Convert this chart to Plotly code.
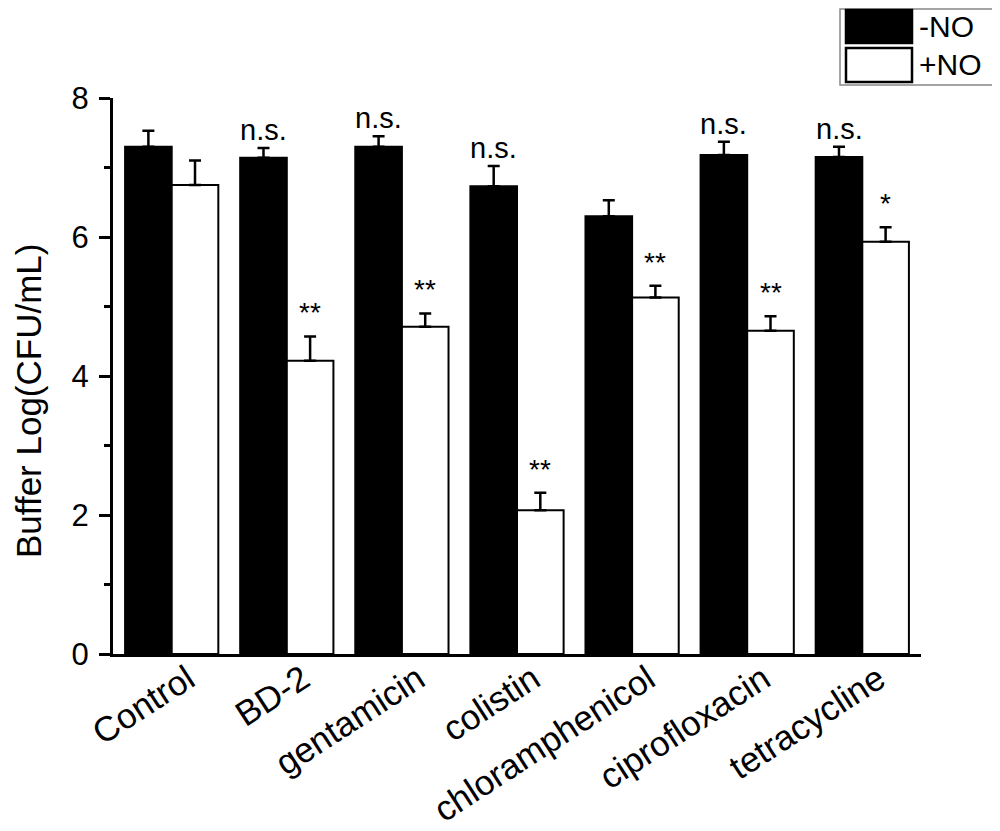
import plotly.graph_objects as go

# data
categories = ["Control", "BD-2", "gentamicin", "colistin",
              "chloramphenicol", "ciprofloxacin", "tetracycline"]
minus_no = [7.30, 7.14, 7.30, 6.73, 6.30, 7.18, 7.15]
minus_no_err = [0.23, 0.14, 0.15, 0.29, 0.23, 0.19, 0.15]
plus_no = [6.75, 4.22, 4.71, 2.07, 5.13, 4.65, 5.93]
plus_no_err = [0.35, 0.35, 0.19, 0.25, 0.17, 0.21, 0.21]
sig_minus = ["", "n.s.", "n.s.", "n.s.", "", "n.s.", "n.s."]
sig_plus = ["", "**", "**", "**", "**", "**", "*"]

FONT = "Arial, Liberation Sans, sans-serif"
# page body has an 8px margin, so the figure is 8px smaller than the window
W, H = 992, 823
L, R, T, B = 105, 79, 90, 177  # margins in px

fig = go.Figure()

fig.add_trace(go.Bar(
    x=categories, y=minus_no, name="-NO",
    marker=dict(color="black", line=dict(color="black", width=2)),
    error_y=dict(type="data", array=minus_no_err, symmetric=False,
                 arrayminus=[0] * len(minus_no), color="black",
                 thickness=2.5, width=6),
))
fig.add_trace(go.Bar(
    x=categories, y=plus_no, name="+NO",
    marker=dict(color="white", line=dict(color="black", width=2)),
    error_y=dict(type="data", array=plus_no_err, symmetric=False,
                 arrayminus=[0] * len(plus_no), color="black",
                 thickness=2.5, width=6),
))

# significance marks above the error bars
half = 23.3
for i, c in enumerate(categories):
    if sig_minus[i]:
        fig.add_annotation(x=c, y=minus_no[i] + minus_no_err[i], text=sig_minus[i],
                           showarrow=False, xshift=-half, yshift=0, yanchor="bottom",
                           font=dict(size=29, color="black", family=FONT))
    if sig_plus[i]:
        fig.add_annotation(x=c, y=plus_no[i] + plus_no_err[i], text=sig_plus[i],
                           showarrow=False, xshift=half, yshift=6, yanchor="bottom",
                           font=dict(size=28, color="black", family=FONT))


# pixel -> paper helpers for the legend and y title
def px(xp):
    return (xp - L) / (W - L - R)


def py(yp):
    return (H - B - yp) / (H - T - B)


# hand-drawn legend box (top right)
fig.add_shape(type="rect", xref="paper", yref="paper",
              x0=px(832), x1=px(986), y0=py(77), y1=py(1),
              line=dict(color="#888888", width=1.5), fillcolor="white")
for name, fill, top, bot in [("-NO", "black", 2, 35), ("+NO", "white", 40, 74)]:
    fig.add_shape(type="rect", xref="paper", yref="paper",
                  x0=px(838), x1=px(904), y0=py(bot), y1=py(top),
                  line=dict(color="black", width=2.5), fillcolor=fill)
    fig.add_annotation(xref="paper", yref="paper", x=px(909), y=py((top + bot) / 2),
                       text=name, showarrow=False, xanchor="left", yanchor="middle",
                       font=dict(size=30, color="black", family=FONT))

# y axis title
fig.add_annotation(xref="paper", yref="paper", x=px(21), y=py(393),
                   text="Buffer Log(CFU/mL)", textangle=-90, showarrow=False,
                   xanchor="center", yanchor="middle",
                   font=dict(size=35, color="black", family=FONT))

fig.update_layout(
    width=W, height=H,
    margin=dict(l=L, r=R, t=T, b=B, autoexpand=False),
    paper_bgcolor="white", plot_bgcolor="white",
    barmode="group", bargap=0.19, bargroupgap=0,
    showlegend=False,
    font=dict(family=FONT, color="black"),
)
fig.update_xaxes(
    range=[-0.51, 6.51], showline=True, linecolor="black", linewidth=3,
    ticks="", tickangle=-33, tickfont=dict(size=35, family=FONT),
    ticklabelshift=16, ticklabelstandoff=-12, automargin=False,
    showgrid=False, zeroline=False,
)
fig.update_yaxes(
    range=[0, 8], dtick=2, showline=True, linecolor="black", linewidth=3,
    ticks="outside", ticklen=11, tickwidth=3, tickcolor="black",
    minor=dict(dtick=1, ticks="outside", ticklen=6, tickwidth=3, tickcolor="black"),
    tickfont=dict(size=31, family=FONT), ticklabelstandoff=4, automargin=False,
    showgrid=False, zeroline=False,
)

fig.write_html("out.html")
